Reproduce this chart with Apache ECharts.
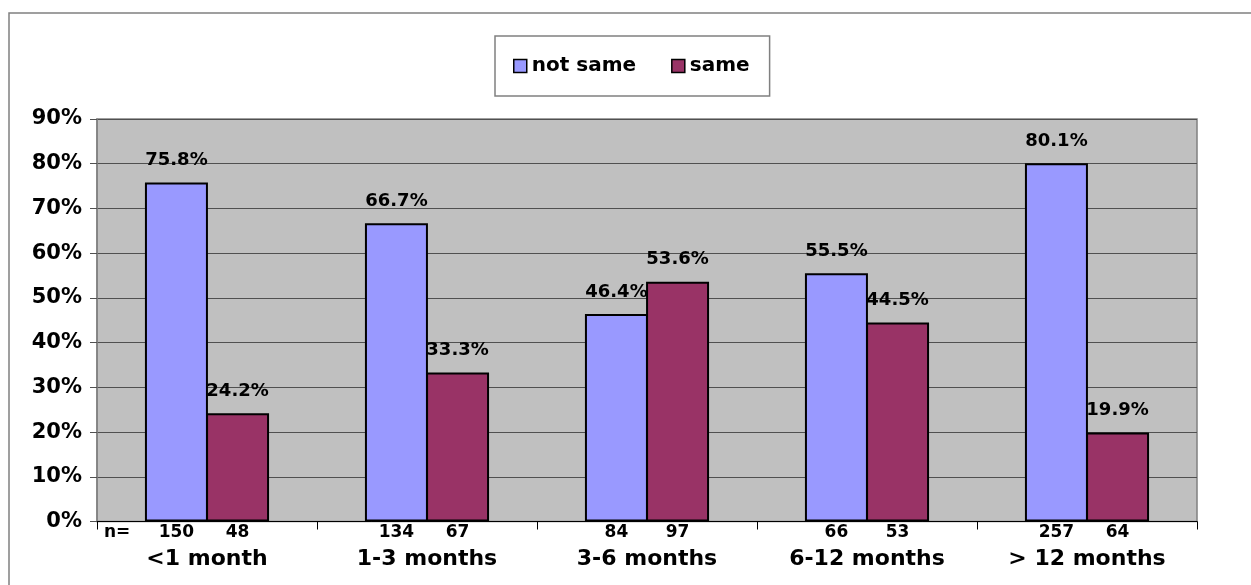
<!DOCTYPE html>
<html>
<head>
<meta charset="utf-8">
<script src="https://cdn.jsdelivr.net/npm/echarts@6/dist/echarts.min.js"></script>
<style>
  html, body { margin: 0; padding: 0; background: #fff; }
  #chart { width: 1251px; height: 585px; }
</style>
</head>
<body>
<div id="chart"></div>
<script>
const categories = ['<1 month', '1-3 months', '3-6 months', '6-12 months', '> 12 months'];
const notSame = [75.8, 66.7, 46.4, 55.5, 80.1];
const same = [24.2, 33.3, 53.6, 44.5, 19.9];
const nNotSame = [150, 134, 84, 66, 257];
const nSame = [48, 67, 97, 53, 64];
const zeros = [0, 0, 0, 0, 0];

const font = 'DejaVu Sans';
const chart = echarts.init(document.getElementById('chart'));

// zero-height helper bars carry the n= counts under each bar
const countSeries = (name, stack, counts) => ({
  name: name,
  type: 'bar',
  stack: stack,
  silent: true,
  barWidth: 63,
  barGap: '-3%',
  data: zeros,
  itemStyle: { color: 'transparent', borderWidth: 0 },
  label: {
    show: true,
    position: 'bottom',
    distance: 3,
    color: '#000',
    fontFamily: font,
    fontWeight: 'bold',
    fontSize: 17,
    formatter: (p) => String(counts[p.dataIndex])
  }
});

const valueSeries = (name, stack, values, color) => ({
  name: name,
  type: 'bar',
  stack: stack,
  barWidth: 63,
  barGap: '-3%',
  data: values,
  itemStyle: { color: color, borderColor: '#000', borderWidth: 2 },
  label: {
    show: true,
    position: 'top',
    distance: 13,
    color: '#000',
    fontFamily: font,
    fontWeight: 'bold',
    fontSize: 18,
    formatter: (p) => p.value.toFixed(1) + '%'
  }
});

chart.setOption({
  animation: false,
  backgroundColor: '#fff',
  grid: {
    left: 97,
    right: 54,
    top: 119,
    bottom: 63.5,
    show: true,
    backgroundColor: '#c0c0c0',
    borderColor: '#808080',
    borderWidth: 1.5
  },
  legend: {
    data: ['not same', 'same'],
    left: 495,
    top: 36,
    orient: 'horizontal',
    padding: [20, 20, 20, 18],
    itemGap: 35,
    itemWidth: 13,
    itemHeight: 13,
    icon: 'rect',
    backgroundColor: '#fff',
    borderColor: '#808080',
    borderWidth: 1.5,
    itemStyle: { borderColor: '#000', borderWidth: 1.5 },
    textStyle: { fontFamily: font, fontWeight: 'bold', fontSize: 20, color: '#000' }
  },
  xAxis: {
    type: 'category',
    data: categories,
    axisLine: { lineStyle: { color: '#000', width: 1 } },
    axisTick: { show: true, length: 8, lineStyle: { color: '#000' } },
    axisLabel: {
      margin: 27,
      color: '#000',
      fontFamily: font,
      fontWeight: 'bold',
      fontSize: 22
    }
  },
  yAxis: {
    type: 'value',
    min: 0,
    max: 90,
    interval: 10,
    axisLine: { show: true, lineStyle: { color: '#808080', width: 1.5 } },
    axisTick: { show: true, length: 7, lineStyle: { color: '#505050' } },
    splitLine: { lineStyle: { color: '#505050', width: 1 } },
    axisLabel: {
      margin: 15,
      color: '#000',
      fontFamily: font,
      fontWeight: 'bold',
      fontSize: 21,
      formatter: '{value}%'
    }
  },
  graphic: [
    {
      type: 'rect',
      z: -10,
      silent: true,
      shape: { x: 9, y: 13, width: 1300, height: 620 },
      style: { fill: 'none', stroke: '#808080', lineWidth: 1.5 }
    },
    {
      type: 'text',
      left: 104,
      top: 524,
      style: { text: 'n=', fontFamily: font, fontWeight: 'bold', fontSize: 17, fill: '#000' }
    }
  ],
  series: [
    countSeries('n not same', 'a', nNotSame),
    valueSeries('not same', 'a', notSame, '#9999ff'),
    countSeries('n same', 'b', nSame),
    valueSeries('same', 'b', same, '#993366')
  ]
});
</script>
</body>
</html>
